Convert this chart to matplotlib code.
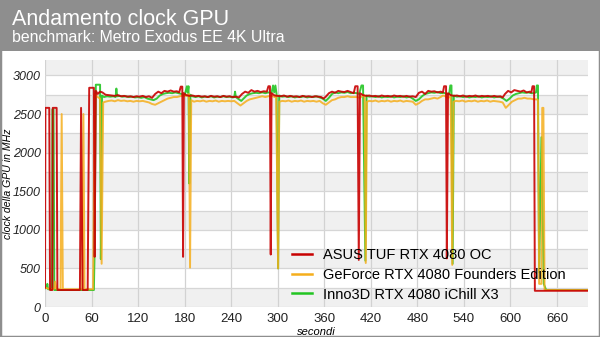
import matplotlib
matplotlib.use('Agg')
import matplotlib.pyplot as plt
from matplotlib.patches import Rectangle
from matplotlib.lines import Line2D

plt.rcParams['font.family'] = ['Liberation Sans', 'DejaVu Sans']

title = "Andamento clock GPU"
subtitle = "benchmark: Metro Exodus EE 4K Ultra"
y_label = "clock della GPU in MHz"
x_label = "secondi"
series_names = ["ASUS TUF RTX 4080 OC", "GeForce RTX 4080 Founders Edition", "Inno3D RTX 4080 iChill X3"]
x_ticks = [0, 60, 120, 180, 240, 300, 360, 420, 480, 540, 600, 660]
y_ticks = [0, 500, 1000, 1500, 2000, 2500, 3000]

asus_s = [0, 0.5, 5.5, 6.5, 9.5, 10, 15, 16, 45, 46.5, 48.5, 55, 57, 63, 64, 65.5, 68, 71, 74, 78,
          82, 86, 90, 94, 98, 102, 106, 110, 114, 118,
          122, 126, 130, 134, 138, 142, 146, 150, 154, 158,
          162, 166, 170, 173, 175, 177, 178, 179, 182, 186,
          190, 194, 198, 202, 206, 210, 214, 218, 222, 226,
          230, 234, 238, 242, 246, 250, 254, 258, 262, 266,
          270, 274, 278, 282, 286, 288, 290, 291, 292, 296,
          300, 304, 308, 312, 316, 320, 324, 328, 332, 336,
          340, 344, 348, 352, 356, 359, 362, 366, 370, 374,
          378, 382, 386, 390, 394, 398, 400, 403, 404.5, 406,
          410, 414, 418, 422, 426, 430, 434, 438, 442, 446,
          450, 454, 458, 462, 466, 470, 474, 478, 482, 486,
          490, 494, 498, 502, 506, 510, 513, 514.5, 517, 518,
          519.5, 523, 527, 531, 535, 539, 543, 547, 551, 555,
          559, 563, 567, 571, 575, 579, 583, 587, 590, 593,
          597, 601, 605, 609, 613, 617, 621, 625, 627, 628.5,
          630.5, 631.5, 700]
asus_mhz = [250, 2580, 2580, 220, 220, 2580, 2580, 220, 220, 2580, 220, 220, 2840, 2840, 650, 2800, 2760, 2790, 2780, 2750,
            2745, 2740, 2735, 2745, 2730, 2735, 2725, 2730, 2720, 2730,
            2725, 2735, 2720, 2730, 2710, 2760, 2790, 2770, 2800, 2790,
            2805, 2790, 2795, 2780, 2855, 2855, 650, 2770, 2745, 2735,
            2740, 2730, 2735, 2725, 2730, 2720, 2735, 2725, 2730, 2720,
            2735, 2725, 2730, 2720, 2725, 2715, 2760, 2790, 2775, 2810,
            2790, 2800, 2785, 2795, 2790, 2860, 2860, 680, 2770, 2740,
            2735, 2730, 2740, 2725, 2735, 2725, 2730, 2720, 2735, 2725,
            2730, 2720, 2730, 2725, 2720, 2700, 2725, 2770, 2790, 2775,
            2800, 2790, 2785, 2800, 2785, 2770, 2860, 2860, 610, 2770,
            2745, 2735, 2740, 2730, 2735, 2725, 2740, 2730, 2735, 2725,
            2740, 2730, 2735, 2725, 2735, 2725, 2730, 2720, 2775, 2790,
            2760, 2800, 2790, 2795, 2780, 2790, 2780, 2860, 2860, 630,
            2770, 2745, 2735, 2740, 2730, 2740, 2725, 2735, 2730, 2740,
            2725, 2735, 2730, 2735, 2725, 2735, 2725, 2730, 2715, 2760,
            2800, 2780, 2810, 2800, 2790, 2805, 2780, 2790, 2780, 2860,
            2860, 210, 210]

gef_s = [0, 8, 12, 13, 15, 20, 21.5, 23, 48, 49.5, 51, 62, 64, 68, 71, 73, 75, 78, 82, 86,
         90, 94, 98, 102, 106, 110, 114, 118, 122, 126,
         130, 134, 138, 142, 146, 150, 154, 158, 162, 166,
         170, 174, 178, 182, 184, 185.5, 187, 188.5, 192, 196,
         200, 204, 208, 212, 216, 220, 224, 228, 232, 236,
         240, 244, 248, 252, 256, 260, 264, 268, 272, 276,
         280, 284, 288, 292, 296, 298, 300.5, 302, 306, 310,
         314, 318, 322, 326, 330, 334, 338, 342, 346, 350,
         354, 358, 362, 366, 370, 374, 378, 382, 386, 390,
         394, 398, 402, 406, 410, 412, 413.5, 415, 418, 422,
         426, 430, 434, 438, 442, 446, 450, 454, 458, 462,
         466, 470, 474, 478, 482, 486, 490, 494, 498, 502,
         506, 510, 513, 516, 520, 523, 525, 526.5, 530, 534,
         538, 542, 546, 550, 554, 558, 562, 566, 570, 574,
         578, 582, 586, 590, 594, 598, 602, 606, 610, 614,
         618, 622, 626, 630, 634, 635.5, 637, 640, 641, 642.5,
         644, 700]
gef_mhz = [250, 230, 240, 330, 230, 230, 2500, 230, 230, 2500, 230, 230, 2760, 2720, 2700, 560, 2650, 2660, 2670, 2675,
           2665, 2680, 2670, 2675, 2665, 2670, 2660, 2670, 2665, 2670,
           2660, 2650, 2630, 2620, 2640, 2660, 2680, 2700, 2710, 2720,
           2720, 2730, 2740, 2735, 2750, 2760, 510, 2680, 2660, 2670,
           2665, 2675, 2660, 2670, 2665, 2675, 2660, 2670, 2665, 2670,
           2665, 2670, 2640, 2610, 2640, 2670, 2690, 2700, 2710, 2720,
           2730, 2720, 2730, 2740, 2720, 2740, 500, 2660, 2670, 2665,
           2675, 2660, 2670, 2665, 2675, 2660, 2670, 2665, 2670, 2660,
           2670, 2640, 2620, 2650, 2680, 2690, 2710, 2720, 2720, 2730,
           2720, 2720, 2720, 2710, 2740, 2740, 570, 2660, 2670, 2665,
           2675, 2660, 2670, 2665, 2675, 2660, 2670, 2665, 2675, 2660,
           2670, 2665, 2660, 2620, 2640, 2670, 2690, 2690, 2700, 2710,
           2700, 2720, 2740, 2730, 2710, 2730, 545, 2660, 2670, 2665,
           2675, 2660, 2670, 2665, 2675, 2660, 2670, 2665, 2675, 2660,
           2670, 2665, 2660, 2650, 2580, 2620, 2660, 2680, 2700, 2700,
           2710, 2700, 2700, 2690, 2690, 2680, 300, 300, 2580, 2580,
           220, 220]

inno_s = [0, 2, 3, 4, 9, 9.5, 11, 12, 62, 63, 63.8, 65.5, 71, 72, 73.5, 76, 80, 84, 88, 91,
          92, 93, 96, 100, 104, 108, 112, 116, 120, 124,
          128, 132, 136, 140, 144, 148, 152, 156, 160, 164,
          168, 172, 176, 180, 183, 184, 185, 186, 187.5, 190,
          194, 198, 202, 206, 210, 214, 218, 222, 226, 230,
          234, 238, 242, 244, 245, 246, 250, 253, 256, 260,
          264, 268, 272, 276, 280, 284, 288, 292, 294, 295.5,
          297, 298.5, 300.5, 302, 306, 310, 314, 318, 322, 326,
          330, 334, 338, 342, 346, 350, 354, 358, 362, 366,
          370, 374, 378, 382, 386, 390, 394, 398, 402, 405,
          408, 410, 413, 414.5, 418, 422, 426, 430, 434, 438,
          442, 446, 450, 454, 458, 462, 466, 470, 474, 478,
          482, 486, 490, 494, 498, 502, 506, 510, 514, 518,
          521, 522.5, 524, 525.5, 527, 531, 535, 539, 543, 547,
          551, 555, 559, 563, 567, 571, 575, 579, 583, 587,
          591, 595, 599, 603, 607, 611, 615, 619, 623, 627,
          630, 633, 634, 635.5, 637, 640, 643, 646, 700]
inno_mhz = [240, 250, 300, 230, 230, 2560, 2560, 220, 220, 220, 650, 2880, 2880, 620, 2740, 2720, 2730, 2725, 2730, 2720,
            2830, 2730, 2735, 2725, 2730, 2720, 2725, 2715, 2720, 2710,
            2720, 2700, 2690, 2680, 2700, 2740, 2760, 2770, 2775, 2770,
            2780, 2770, 2760, 2740, 2860, 2780, 2860, 1600, 2750, 2730,
            2720, 2730, 2715, 2725, 2720, 2730, 2715, 2725, 2720, 2730,
            2720, 2725, 2715, 2720, 2790, 2720, 2690, 2670, 2700, 2740,
            2760, 2770, 2775, 2770, 2780, 2770, 2780, 2770, 2870, 2780,
            2870, 2760, 500, 2740, 2725, 2730, 2720, 2730, 2715, 2725,
            2720, 2730, 2715, 2725, 2720, 2730, 2715, 2700, 2670, 2710,
            2760, 2780, 2770, 2780, 2775, 2785, 2770, 2775, 2770, 2760,
            2870, 2870, 600, 2740, 2725, 2730, 2720, 2730, 2715, 2725,
            2720, 2730, 2715, 2725, 2720, 2730, 2715, 2725, 2700, 2670,
            2690, 2730, 2760, 2770, 2780, 2775, 2785, 2770, 2775, 2760,
            2760, 2870, 2870, 560, 2740, 2725, 2730, 2720, 2730, 2715,
            2725, 2720, 2730, 2715, 2725, 2720, 2730, 2715, 2725, 2720,
            2700, 2670, 2700, 2740, 2760, 2770, 2780, 2775, 2780, 2770,
            2770, 2780, 2870, 2870, 450, 2200, 300, 220, 220]

col_asus = '#c80000'
col_gef = '#f5ae1c'
col_inno = '#22c522'

W, H = 600, 337
fig = plt.figure(figsize=(W / 100, H / 100), dpi=100)
fig.patch.set_facecolor('white')
fig.add_artist(Rectangle((0, 1 - 51 / H), 1, 51 / H, transform=fig.transFigure,
                         facecolor='#8e8e8e', edgecolor='none', zorder=0))
fig.add_artist(Rectangle((0, 0), 1, 1, transform=fig.transFigure, fill=False,
                         edgecolor='#8e8e8e', linewidth=2.5, zorder=10))
fig.text(12 / W, 1 - 25 / H, title, color='white', fontsize=15.5, va='baseline')
fig.text(12 / W, 1 - 42.5 / H, subtitle, color='white', fontsize=11.4, va='baseline')

ax = fig.add_axes([45 / W, 1 - 307 / H, 543 / W, 247 / H])
ax.set_xlim(0, 700)
ax.set_ylim(0, 3200)
for lo in range(0, 3200, 500):
    ax.axhspan(lo, min(lo + 250, 3200), color='#f0f0f0', zorder=0, lw=0)

ax.set_xticks(x_ticks)
ax.set_yticks(y_ticks)
ax.set_yticks(list(range(250, 3001, 500)), minor=True)
ax.grid(which='both', axis='y', color='#d6d6d6', lw=0.9, zorder=1)
ax.grid(which='major', axis='x', color='#d2d2d2', lw=0.9, zorder=1)
ax.set_axisbelow(True)
for s in ax.spines.values():
    s.set_visible(False)
ax.tick_params(which='both', length=0)
ax.tick_params(axis='y', pad=3, labelsize=9, labelcolor='#222222')
ax.tick_params(axis='x', pad=4, labelsize=9.5, labelcolor='#222222')
for lbl in ax.get_yticklabels():
    lbl.set_fontstyle('italic')

ax.plot(inno_s, inno_mhz, color=col_inno, lw=1.4, alpha=0.9, zorder=3)
ax.plot(gef_s, gef_mhz, color=col_gef, lw=1.4, alpha=0.85, zorder=4)
ax.plot(asus_s, asus_mhz, color=col_asus, lw=1.4, alpha=0.9, zorder=5)

ax.set_ylabel(y_label, fontsize=7.6, style='italic')
ax.yaxis.set_label_coords(-0.059, 0.5)
ax.set_xlabel(x_label, fontsize=8, style='italic', labelpad=2)

handles = [Line2D([], [], color=c, lw=1.8) for c in (col_asus, col_gef, col_inno)]
ax.legend(handles, series_names, loc='upper left', bbox_to_anchor=(0.455, 0.237),
          frameon=False, fontsize=10.5, handlelength=1.4, handletextpad=0.7,
          labelspacing=0.38, borderpad=0, borderaxespad=0)

fig.savefig('out.png', dpi=100)
